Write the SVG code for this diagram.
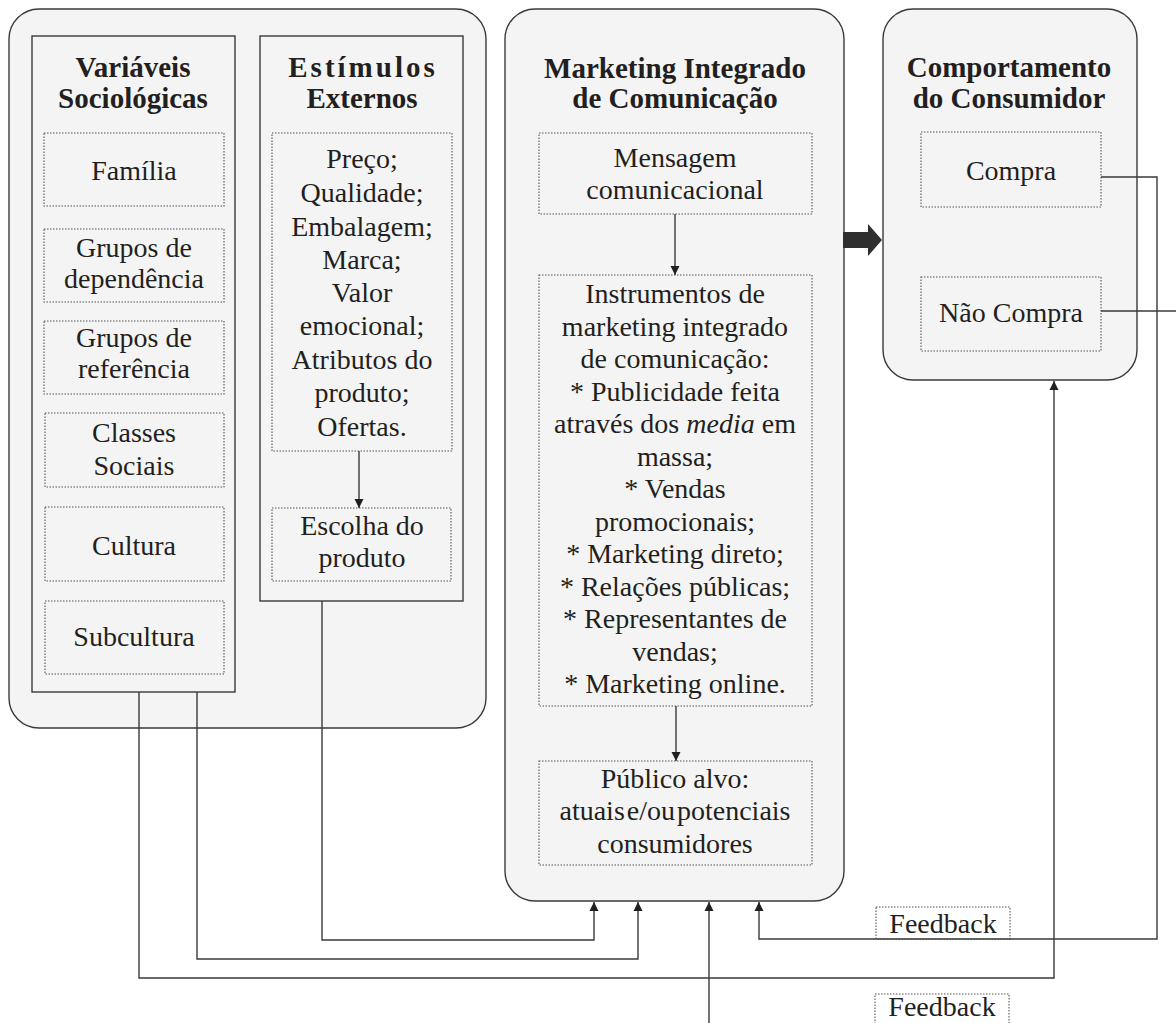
<svg xmlns="http://www.w3.org/2000/svg" width="1176" height="1023" viewBox="0 0 1176 1023">
<style>
.outer{fill:#f4f4f4;stroke:#3a3a3a;stroke-width:1.4}
.inner{fill:#f4f4f4;stroke:#3a3a3a;stroke-width:1.4}
.dot{fill:none;stroke:#555;stroke-width:1.1;stroke-dasharray:1.5 1.5}
.t{font-family:"Liberation Serif",serif;font-size:28px;fill:#231f20;text-anchor:middle}
.h{font-family:"Liberation Serif",serif;font-size:29px;font-weight:bold;fill:#231f20;text-anchor:middle}
.c{fill:none;stroke:#3a3a3a;stroke-width:1.4}
</style>
<defs>
<marker id="ah" viewBox="0 0 10 10" refX="10" refY="5" markerWidth="9" markerHeight="13" markerUnits="userSpaceOnUse" orient="auto">
<path d="M0,0 L10,5 L0,10 z" fill="#231f20"/>
</marker>
</defs>
<rect width="1176" height="1023" fill="#fff"/>

<g id="grupo-esquerdo">
<rect class="outer" x="9" y="9" width="477" height="719" rx="30"/>
</g>

<g id="variaveis-sociologicas">
<rect class="inner" x="32" y="36" width="203" height="656"/>
<text class="h" x="133" y="77">Variáveis</text>
<text class="h" x="133" y="108">Sociológicas</text>
</g>
<g id="familia"><rect class="dot" x="44" y="133" width="180" height="73"/><text class="t" x="134" y="180">Família</text></g>
<g id="grupos-dependencia"><rect class="dot" x="44" y="229" width="180" height="73"/><text class="t" x="134" y="257">Grupos de</text><text class="t" x="134" y="288">dependência</text></g>
<g id="grupos-referencia"><rect class="dot" x="44" y="321" width="180" height="73"/><text class="t" x="134" y="347">Grupos de</text><text class="t" x="134" y="378">referência</text></g>
<g id="classes-sociais"><rect class="dot" x="45" y="413" width="179" height="74"/><text class="t" x="134" y="442">Classes</text><text class="t" x="134" y="475">Sociais</text></g>
<g id="cultura"><rect class="dot" x="45" y="507" width="179" height="74"/><text class="t" x="134" y="555">Cultura</text></g>
<g id="subcultura"><rect class="dot" x="45" y="601" width="179" height="73"/><text class="t" x="134" y="646">Subcultura</text></g>

<g id="estimulos-externos">
<rect class="inner" x="260" y="36" width="203" height="565"/>
<text class="h" x="363" y="77" letter-spacing="3">Estímulos</text>
<text class="h" x="362" y="108">Externos</text>
</g>
<g id="estimulos-lista">
<rect class="dot" x="272" y="133" width="180" height="318"/>
<text class="t" x="362" y="168">Preço;</text>
<text class="t" x="362" y="202">Qualidade;</text>
<text class="t" x="362" y="236">Embalagem;</text>
<text class="t" x="362" y="269">Marca;</text>
<text class="t" x="362" y="302">Valor</text>
<text class="t" x="362" y="335">emocional;</text>
<text class="t" x="362" y="369">Atributos do</text>
<text class="t" x="362" y="402">produto;</text>
<text class="t" x="362" y="436">Ofertas.</text>
</g>
<g id="escolha-produto"><rect class="dot" x="272" y="508" width="179" height="73"/><text class="t" x="362" y="535">Escolha do</text><text class="t" x="362" y="567">produto</text></g>

<g id="marketing-integrado">
<rect class="outer" x="505" y="9" width="339" height="892" rx="30"/>
<text class="h" x="675" y="78">Marketing  Integrado</text>
<text class="h" x="675" y="108">de Comunicação</text>
</g>
<g id="mensagem"><rect class="dot" x="539" y="133" width="273" height="81"/><text class="t" x="675" y="167">Mensagem</text><text class="t" x="675" y="199">comunicacional</text></g>
<g id="instrumentos">
<rect class="dot" x="539" y="275" width="273" height="431"/>
<text class="t" x="675" y="303">Instrumentos de</text>
<text class="t" x="675" y="335.5">marketing integrado</text>
<text class="t" x="675" y="368">de comunicação:</text>
<text class="t" x="675" y="400.5">* Publicidade feita</text>
<text class="t" x="675" y="433">através dos <tspan font-style="italic">media</tspan> em</text>
<text class="t" x="675" y="465.5">massa;</text>
<text class="t" x="675" y="498">* Vendas</text>
<text class="t" x="675" y="530.5">promocionais;</text>
<text class="t" x="675" y="563">* Marketing direto;</text>
<text class="t" x="675" y="595.5">* Relações públicas;</text>
<text class="t" x="675" y="628">* Representantes de</text>
<text class="t" x="675" y="660.5">vendas;</text>
<text class="t" x="675" y="693">* Marketing online.</text>
</g>
<g id="publico-alvo">
<rect class="dot" x="539" y="761" width="273" height="104"/>
<text class="t" x="675" y="788">Público alvo:</text>
<text class="t" x="675" y="820" word-spacing="-5">atuais e/ou potenciais</text>
<text class="t" x="675" y="853">consumidores</text>
</g>

<g id="comportamento-consumidor">
<rect class="outer" x="883" y="9" width="254" height="371" rx="30"/>
<text class="h" x="1009" y="77">Comportamento</text>
<text class="h" x="1009" y="108">do Consumidor</text>
</g>
<g id="compra"><rect class="dot" x="921" y="132" width="180" height="75"/><text class="t" x="1011" y="180">Compra</text></g>
<g id="nao-compra"><rect class="dot" x="921" y="277" width="180" height="74"/><text class="t" x="1011" y="322">Não Compra</text></g>

<g id="feedback-1"><rect class="dot" x="876" y="907" width="134" height="32" fill="#fff"/><text class="t" x="943" y="933">Feedback</text></g>
<g id="feedback-2"><rect class="dot" x="875" y="994" width="134" height="40" fill="#fff"/><text class="t" x="942" y="1016">Feedback</text></g>

<g id="connectors">
<line class="c" x1="359" y1="451" x2="359" y2="508" marker-end="url(#ah)"/>
<line class="c" x1="675" y1="214" x2="675" y2="275" marker-end="url(#ah)"/>
<line class="c" x1="676" y1="706" x2="676" y2="761" marker-end="url(#ah)"/>
<polygon points="843,232 868,232 868,224 882,240 868,256 868,248 843,248" fill="#2e2e2e"/>
<polyline class="c" points="322,601 322,940 594,940 594,902" marker-end="url(#ah)"/>
<polyline class="c" points="197,692 197,959 638,959 638,902" marker-end="url(#ah)"/>
<polyline class="c" points="139,692 139,978 1054,978 1054,381" marker-end="url(#ah)"/>
<line class="c" x1="709" y1="1023" x2="709" y2="902" marker-end="url(#ah)"/>
<polyline class="c" points="1101,177 1157,177 1157,939 759,939 759,902" marker-end="url(#ah)"/>
<line class="c" x1="1101" y1="311" x2="1176" y2="311"/>
</g>
</svg>
